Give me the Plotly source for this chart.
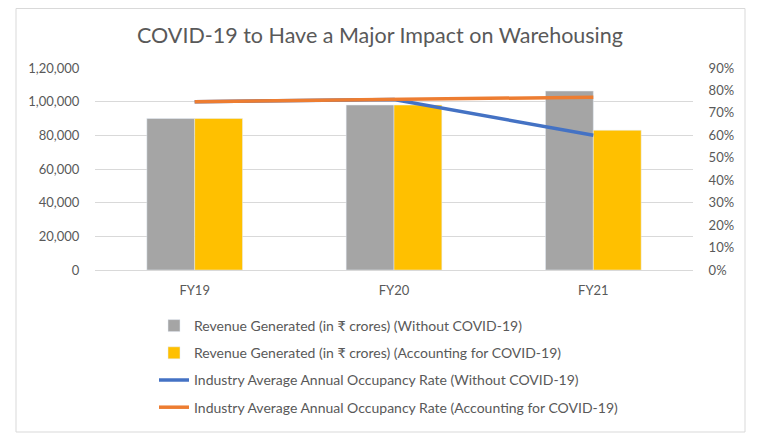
import plotly.graph_objects as go

categories = ["FY19", "FY20", "FY21"]
rev_without = [90000, 98000, 106300]
rev_with = [90000, 98000, 83000]
occ_without = [0.75, 0.76, 0.60]
occ_with = [0.75, 0.76, 0.77]

left_ticks = [0, 20000, 40000, 60000, 80000, 100000, 120000]
left_ticktext = ["0", "20,000", "40,000", "60,000", "80,000", "1,00,000", "1,20,000"]

names = [
    "Revenue Generated (in ₹ crores) (Without COVID-19)",
    "Revenue Generated (in ₹ crores) (Accounting for COVID-19)",
    "Industry Average Annual Occupancy Rate (Without COVID-19)",
    "Industry Average Annual Occupancy Rate (Accounting for COVID-19)",
]

FONT = "Lato"
TXT = "#595959"

W, H = 760, 437
L, R, T, B = 87, 75, 60, 175
PW, PH = W - L - R, H - T - B

fig = go.Figure()
fig.add_trace(go.Bar(x=categories, y=rev_without, name=names[0], marker_color="#a5a5a5",
                     legendgroup="a", yaxis="y"))
fig.add_trace(go.Bar(x=categories, y=rev_with, name=names[1], marker_color="#ffc000",
                     legendgroup="b", yaxis="y"))
fig.add_trace(go.Scatter(x=categories, y=occ_without, name=names[2], mode="lines",
                         line=dict(color="#4472c4", width=3.5), legendgroup="c", yaxis="y2"))
fig.add_trace(go.Scatter(x=categories, y=occ_with, name=names[3], mode="lines",
                         line=dict(color="#ed7d31", width=3.5), legendgroup="d", yaxis="y2"))

fig.update_layout(
    width=W, height=H,
    margin=dict(l=L, r=R, t=T, b=B),
    paper_bgcolor="white", plot_bgcolor="white",
    font=dict(family=FONT, color=TXT, size=13),
    title=dict(text="COVID-19 to Have a Major Impact on Warehousing", x=372 / W, xref="container",
               xanchor="center", y=1 - 27 / H, yref="container", yanchor="middle",
               font=dict(family=FONT, size=21.5, color=TXT)),
    barmode="group", bargap=0.52, bargroupgap=0,
    xaxis=dict(showgrid=False, showline=False, ticks="outside", ticklen=8, tickcolor="white",
               tickfont=dict(size=13, color=TXT)),
    yaxis=dict(range=[0, 120000], tickvals=left_ticks, ticktext=left_ticktext,
               showgrid=True, gridcolor="#d9d9d9", gridwidth=1, zeroline=True,
               zerolinecolor="#d9d9d9", zerolinewidth=1, showline=False,
               ticks="outside", ticklen=12, tickcolor="white", tickfont=dict(size=13, color=TXT)),
    yaxis2=dict(range=[0, 0.9], dtick=0.1, tickformat=".0%", overlaying="y", side="right",
                showgrid=False, zeroline=False, showline=False,
                ticks="outside", ticklen=12, tickcolor="white", tickfont=dict(size=13, color=TXT)),
    legend=dict(orientation="v", x=(146 - L) / PW, xanchor="left", y=(262 - 302) / PH, yanchor="top",
                font=dict(family=FONT, size=14, color=TXT), tracegroupgap=6,
                itemwidth=30, bgcolor="rgba(0,0,0,0)"),
    showlegend=True,
    shapes=[dict(type="rect", xref="paper", yref="paper",
                 x0=(8 - L) / PW, x1=(737 - L) / PW,
                 y0=(262 - 424) / PH, y1=(262 - 0.5) / PH,
                 line=dict(color="#d9d9d9", width=1), fillcolor="rgba(0,0,0,0)", layer="below")],
)

fig.write_html("out.html")
